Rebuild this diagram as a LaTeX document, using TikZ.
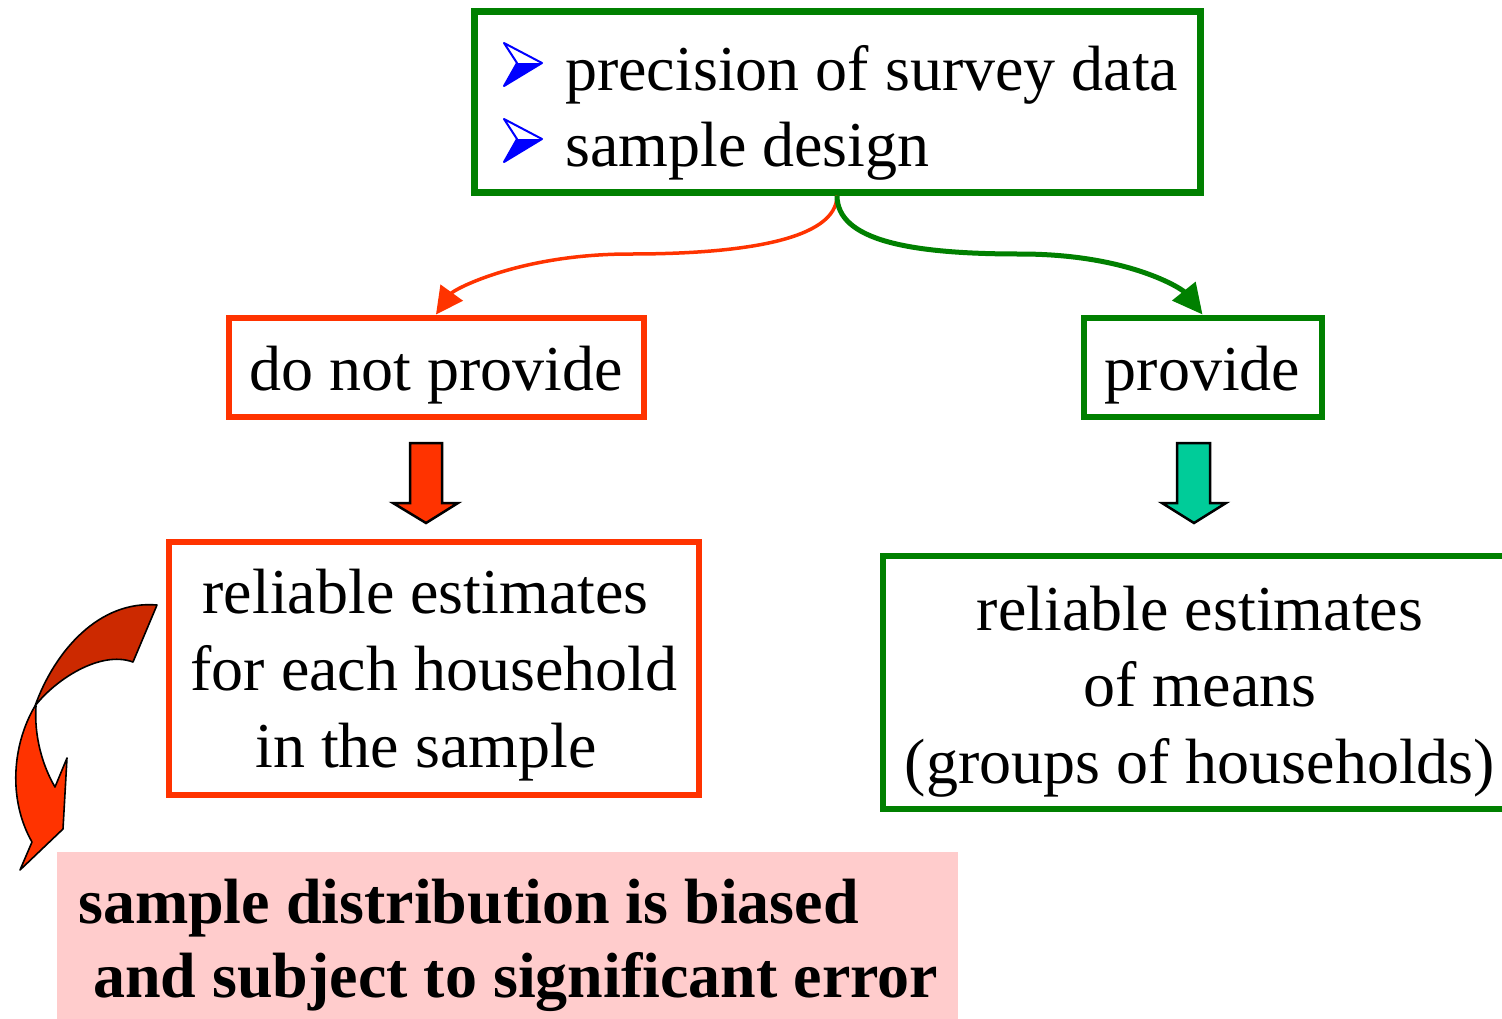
\documentclass[tikz,border=0pt]{standalone}
\usepackage{fontspec}
\setmainfont{Liberation Serif}
\usetikzlibrary{arrows.meta}
\definecolor{myred}{HTML}{FF3300}
\definecolor{mygreen}{HTML}{008000}
\definecolor{myteal}{HTML}{00CC99}
\definecolor{mydark}{HTML}{CC2900}
\definecolor{mypink}{HTML}{FFCCCC}
\definecolor{myblue}{HTML}{0000FF}
\begin{document}
\begin{tikzpicture}[x=1pt,y=-1pt,
  txt/.style={font=\fontsize{64}{77}\selectfont, inner sep=0pt, anchor=base},
  btxt/.style={font=\fontsize{64}{77}\selectfont\bfseries, inner sep=0pt, anchor=base west},
  gbox/.style={draw=mygreen, line width=6pt, inner sep=0pt},
  rbox/.style={draw=myred, line width=6pt, inner sep=0pt},
  blk/.style={draw=black, line width=2.5pt, line join=miter},
  twist/.style={draw=black, line width=1.6pt, line join=round},
  bullet/.style={draw=myblue, line width=2pt, line join=round}
]
\useasboundingbox (0,0) rectangle (1502,1018);
\clip (0,0) rectangle (1502,1018);

% boxes
\node[gbox, line width=7pt, minimum width=726, minimum height=181] (top) at (837,101.5) {};
\node[rbox, minimum width=415, minimum height=99] (dnp) at (436,367) {};
\node[gbox, minimum width=238, minimum height=99] (prov) at (1202.5,367) {};
\node[rbox, minimum width=530, minimum height=253] (rb) at (433.5,668) {};
\node[gbox, minimum width=630, minimum height=253] (gb) at (1198,682.5) {};
\node[fill=mypink, inner sep=0pt, minimum width=901, minimum height=168] (pink) at (507.5,936) {};

% top texts with bullets
\draw[bullet] (504,43) -- (542,63) -- (504,86) -- (517,63) -- cycle;
\fill[myblue] (517,63) -- (542,63) -- (504,86) -- cycle;
\draw[bullet] (504,119) -- (542,139) -- (504,162) -- (517,139) -- cycle;
\fill[myblue] (517,139) -- (542,139) -- (504,162) -- cycle;
\node[txt, anchor=base west] (t1) at (565,90) {precision of survey data};
\node[txt, anchor=base west] (t2) at (565,166) {sample design};

\node[txt] (tdnp) at (436,390) {do not provide};
\node[txt] (tprov) at (1202.5,390) {provide};

\node[txt] (r1) at (425.5,613) {reliable estimates};
\node[txt] (r2) at (434,690) {for each household};
\node[txt] (r3) at (426,767) {in the sample};

\node[txt] (g1) at (1200,630) {reliable estimates};
\node[txt] (g2) at (1200,706) {of means};
\node[txt] (g3) at (1200,783) {(groups of households)};

\node[btxt] (p1) at (78,923) {sample distribution is biased};
\node[btxt] (p2) at (93,997) {and subject to significant error};

% connectors
\coordinate (rmid) at (630,254);
\coordinate (gmid) at (1020,254);
\draw[myred, line width=3.5pt, -{Triangle[length=27pt,width=27pt]}]
   (top.south) .. controls +(0,45) and +(110,0) .. (rmid)
   .. controls +(-110,0) and +(18,-25) .. (dnp.north);
\draw[mygreen, line width=5pt, -{Triangle[length=30pt,width=29pt]}]
   (top.south) .. controls +(0,45) and +(-110,0) .. (gmid)
   .. controls +(110,0) and +(-20,-25) .. (prov.north);

% block arrows
\filldraw[blk, fill=myred] (410,443) -- (442,443) -- (442,503) -- (458,503)
  -- (426,523) -- (393,503) -- (410,503) -- cycle;
\filldraw[blk, fill=myteal] (1177,443) -- (1210,443) -- (1210,503) -- (1226,503)
  -- (1194,523) -- (1162,503) -- (1177,503) -- cycle;

% twisted curved arrow
\filldraw[twist, fill=myred] (35,706) .. controls (12,745) and (8,800) .. (32,842)
  -- (20,870) -- (63,829) -- (67,758) -- (55,787)
  .. controls (42,765) and (34,735) .. (36,706) -- cycle;
\filldraw[twist, fill=mydark] (35,706) .. controls (55,650) and (100,600) .. (157,605)
  -- (133,662) .. controls (100,650) and (55,680) .. (35,706) -- cycle;
\end{tikzpicture}
\end{document}
